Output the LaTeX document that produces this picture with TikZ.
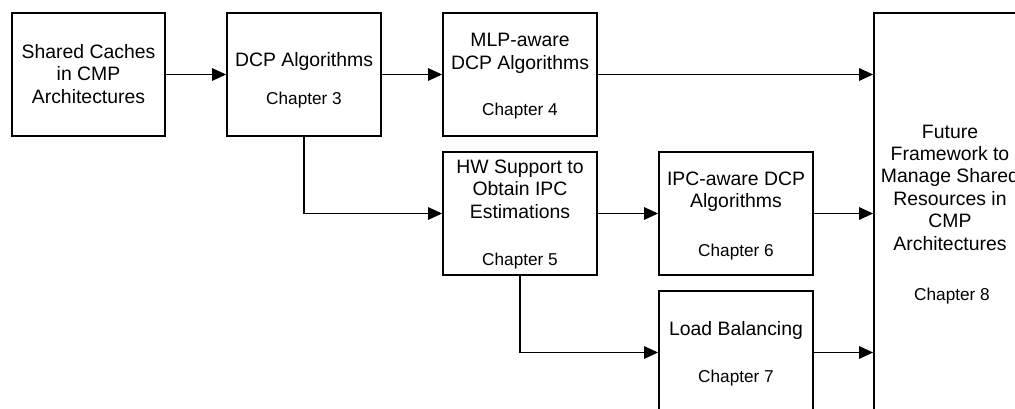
\documentclass[tikz,border=0pt]{standalone}
\usepackage{fontspec}
\setmainfont{Liberation Sans}
\usetikzlibrary{arrows.meta}
% centred multi-line text whose baseline is that of its first line
\newcommand\txtlines[1]{\begin{tabular}[t]{@{}c@{}}#1\end{tabular}}
\begin{document}
\begin{tikzpicture}[x=1pt,y=-1pt,
  box/.style={draw, line width=1.8pt, rectangle, inner sep=0pt,
              minimum width=154pt, minimum height=123pt},
  title/.style={font=\fontsize{19.4}{22.4}\selectfont, inner sep=0pt, anchor=base},
  chap/.style={font=\fontsize{17.2}{20}\selectfont, inner sep=0pt, anchor=base},
  link/.style={line width=1.4pt, -{Triangle[length=14pt,width=12.5pt]}}
]
\useasboundingbox (0,0) rectangle (1015,408);
\clip (0,0) rectangle (1015,408);

% boxes
\node[box, minimum width=153pt] (b1) at (88.5,74.5) {};
\node[box] (b2)   at (304,74.5)  {};
\node[box] (b3)   at (520,74.5)  {};
\node[box] (hw)   at (520,213.5) {};
\node[box] (ipc)  at (736,213.5) {};
\node[box] (load) at (736,352.5) {};
\node[box, minimum height=407pt] (fut) at (951,216.5) {};

% box texts
\node[title] (b1t) at (88.5,58.5) {\txtlines{Shared Caches\\in CMP\\Architectures}};

\node[title] (b2t) at (304,66.7) {DCP Algorithms};
\node[chap]  (b2c) at (304,104)  {Chapter 3};

\node[title] (b3t) at (520,46.7) {\txtlines{MLP-aware\\DCP Algorithms}};
\node[chap]  (b3c) at (520,115)  {Chapter 4};

\node[title] (hwt) at (520,173.3) {\txtlines{HW Support to\\Obtain IPC\\Estimations}};
\node[chap]  (hwc) at (520,265)   {Chapter 5};

\node[title] (ipct) at (736,185) {\txtlines{IPC-aware DCP\\Algorithms}};
\node[chap]  (ipcc) at (736,256) {Chapter 6};

\node[title] (loadt) at (736,335)   {Load Balancing};
\node[chap]  (loadc) at (736,382.7) {Chapter 7};

\node[title] (futt) at (950,138) {\txtlines{Future\\Framework to\\Manage Shared\\Resources in\\CMP\\Architectures}};
\node[chap]  (futc) at (952,300) {Chapter 8};

% connectors
\draw[link] (b1.east) -- (b2.west);
\draw[link] (b2.east) -- (b3.west);
\draw[link] (b3.east) -- (b3.east -| fut.west);
\draw[link] (b2.south) |- (hw.west);
\draw[link] (hw.east) -- (ipc.west);
\draw[link] (ipc.east) -- (ipc.east -| fut.west);
\draw[link] (hw.south) |- (load.west);
\draw[link] (load.east) -- (load.east -| fut.west);
\end{tikzpicture}
\end{document}
